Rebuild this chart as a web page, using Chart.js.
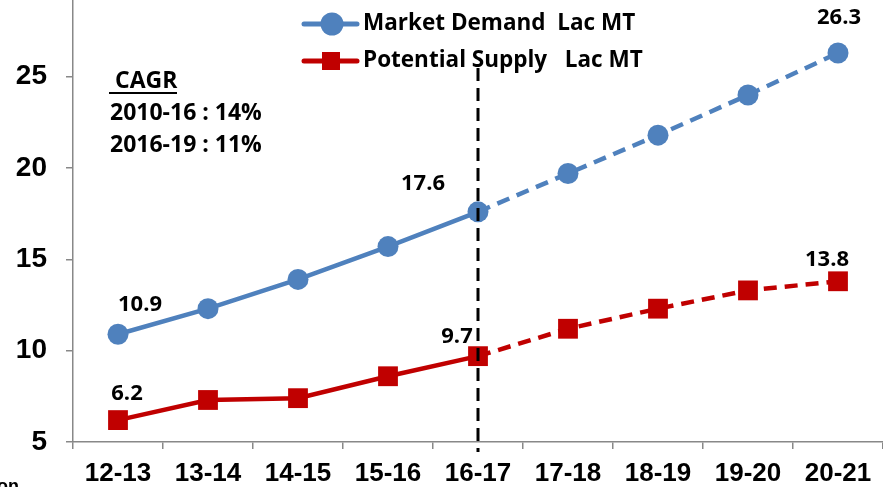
<!DOCTYPE html>
<html>
<head>
<meta charset="utf-8">
<script src="https://cdn.jsdelivr.net/npm/chart.js@4"></script>
<style>
  html, body { margin: 0; padding: 0; background: #fff; }
  #wrap { width: 883px; height: 487px; position: relative; }
</style>
</head>
<body>
<div id="wrap"><canvas id="chart"></canvas></div>
<script>
const years = ['12-13', '13-14', '14-15', '15-16', '16-17', '17-18', '18-19', '19-20', '20-21'];
const demand = [10.9, 12.3, 13.9, 15.7, 17.6, 19.7, 21.8, 24.0, 26.3];
const supply = [6.2, 7.3, 7.4, 8.6, 9.7, 11.2, 12.3, 13.3, 13.8];
const yTicks = [5, 10, 15, 20, 25];
const cagrLines = ['2010-16 : 14%', '2016-19 : 11%'];

const BLUE = '#4F81BD';
const RED = '#C00000';
const SANS = '"Open Sans", Lato, sans-serif';
const ARIAL = '"Liberation Sans", Arial, sans-serif';

// index where forecast (dashed) part starts
const forecastFrom = 4;

// which points get a value label and where (offset from the point)
const demandLabels = { 0: [22, -30], 4: [-55, -28], 8: [1, -35] };
const supplyLabels = { 0: [9, -26], 4: [-21, -19], 8: [-11, -22] };

const overlay = {
  id: 'overlay',
  afterDatasetsDraw(chart) {
    const ctx = chart.ctx;
    const x = chart.scales.x, y = chart.scales.y;
    ctx.save();

    // vertical dashed line at the split
    const sx = x.getPixelForValue(forecastFrom);
    ctx.strokeStyle = '#000';
    ctx.lineWidth = 3;
    ctx.setLineDash([13, 7]);
    ctx.beginPath();
    ctx.moveTo(sx, 68);
    ctx.lineTo(sx, y.bottom + 10);
    ctx.stroke();
    ctx.setLineDash([]);

    // value labels
    ctx.fillStyle = '#000';
    ctx.font = 'bold 22px ' + SANS;
    ctx.textAlign = 'center';
    ctx.textBaseline = 'middle';
    [[demand, demandLabels], [supply, supplyLabels]].forEach(([vals, lbls]) => {
      Object.keys(lbls).forEach(k => {
        const i = +k;
        const [dx, dy] = lbls[k];
        ctx.fillText(vals[i].toFixed(1), x.getPixelForValue(i) + dx, y.getPixelForValue(vals[i]) + dy);
      });
    });

    // CAGR note
    ctx.textAlign = 'left';
    ctx.font = 'bold 23px ' + SANS;
    ctx.fillText('CAGR', 115, 81);
    ctx.fillRect(109, 92, 68, 2);
    cagrLines.forEach((t, i) => ctx.fillText(t, 110, 113 + i * 32));

    // legend
    const rows = [
      { label: chart.data.datasets[0].label, color: BLUE, shape: 'circle', y: 24 },
      { label: chart.data.datasets[1].label, color: RED, shape: 'square', y: 61 }
    ];
    rows.forEach(r => {
      ctx.strokeStyle = r.color;
      ctx.fillStyle = r.color;
      ctx.lineWidth = 5;
      ctx.lineCap = 'round';
      ctx.beginPath();
      ctx.moveTo(304, r.y);
      ctx.lineTo(357, r.y);
      ctx.stroke();
      if (r.shape === 'circle') {
        ctx.beginPath();
        ctx.arc(332, r.y, 11.5, 0, Math.PI * 2);
        ctx.fill();
      } else {
        ctx.fillRect(322, r.y - 9, 18, 18);
      }
      ctx.fillStyle = '#000';
      ctx.font = 'bold 22.5px ' + SANS;
      ctx.fillText(r.label, 363, r.y);
    });

    // cut off source text in corner
    ctx.font = 'bold 18px ' + ARIAL;
    ctx.textBaseline = 'top';
    ctx.fillText('on', -3, 478);
    ctx.restore();
  }
};

const dashAfter = (ctx) => ctx.p0DataIndex >= forecastFrom ? [13, 8] : undefined;

new Chart(document.getElementById('chart'), {
  type: 'line',
  data: {
    labels: years,
    datasets: [
      {
        label: 'Market Demand  Lac MT',
        data: demand,
        borderColor: BLUE,
        backgroundColor: BLUE,
        borderWidth: 4.5,
        pointStyle: 'circle',
        pointRadius: 10.5,
        pointHoverRadius: 10.5,
        pointBorderWidth: 0,
        segment: { borderDash: dashAfter }
      },
      {
        label: 'Potential Supply   Lac MT',
        data: supply,
        borderColor: RED,
        backgroundColor: RED,
        borderWidth: 4.5,
        pointStyle: 'rect',
        pointRadius: 14,
        pointHoverRadius: 14,
        pointBorderWidth: 0,
        segment: { borderDash: dashAfter }
      }
    ]
  },
  options: {
    responsive: true,
    maintainAspectRatio: false,
    animation: false,
    layout: { autoPadding: false, padding: 0 },
    plugins: { legend: { display: false }, tooltip: { enabled: false } },
    scales: {
      x: {
        offset: true,
        grid: { offset: true, drawOnChartArea: false, tickLength: 7, color: '#888', lineWidth: 1.5 },
        border: { color: '#888', width: 1.5 },
        ticks: {
          color: '#000',
          padding: 9,
          maxRotation: 0,
          font: { family: ARIAL, size: 26, weight: 'bold' }
        },
        afterFit: s => { s.height = 45; s.paddingLeft = 0; s.paddingRight = 0; }
      },
      y: {
        min: 5,
        max: 29.2,
        afterBuildTicks: s => { s.ticks = yTicks.map(v => ({ value: v })); },
        grid: { drawOnChartArea: false, tickLength: 7, color: '#888', lineWidth: 1.5 },
        border: { color: '#888', width: 1.5 },
        ticks: {
          color: '#000',
          padding: 19,
          font: { family: ARIAL, size: 28, weight: 'bold' }
        },
        afterFit: s => { s.width = 73; s.paddingTop = 0; s.paddingBottom = 0; }
      }
    }
  },
  plugins: [overlay]
});
</script>
</body>
</html>
